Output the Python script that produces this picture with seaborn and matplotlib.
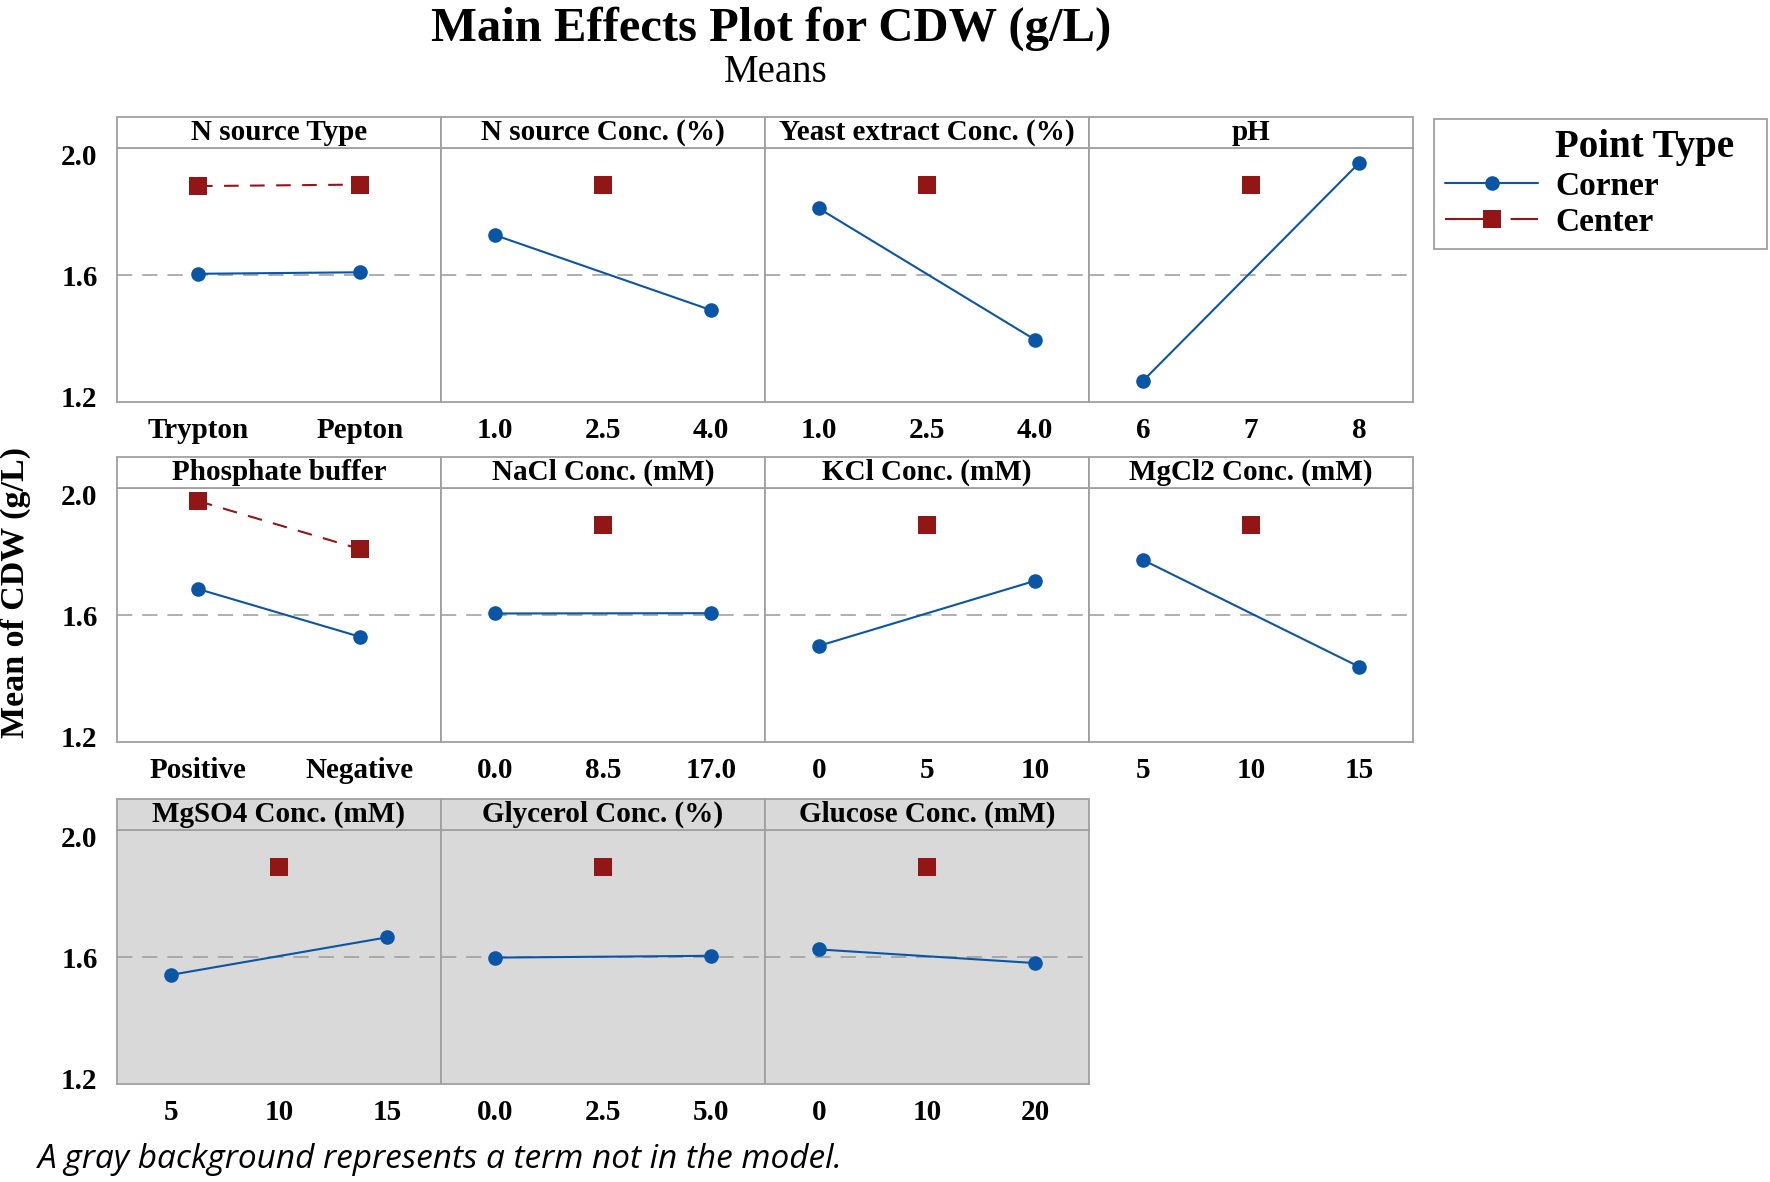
import pandas as pd
import matplotlib.pyplot as plt
import seaborn as sns
from matplotlib.patches import Rectangle
from matplotlib.lines import Line2D

# ------------------------------------
# DATA
# ------------------------------------

factors = ["N source Type", "N source Conc. (%)", "Yeast extract Conc. (%)", "pH",
           "Phosphate buffer", "NaCl Conc. (mM)", "KCl Conc. (mM)", "MgCl2 Conc. (mM)",
           "MgSO4 Conc. (mM)", "Glycerol Conc. (%)", "Glucose Conc. (mM)"]

# x levels: low / center / high  (center None -> categorical factor, two levels only)
low_levels = [0, 1.0, 1.0, 6, 0, 0.0, 0, 5, 5, 0.0, 0]
center_levels = [None, 2.5, 2.5, 7, None, 8.5, 5, 10, 10, 2.5, 10]
high_levels = [1, 4.0, 4.0, 8, 1, 17.0, 10, 15, 15, 5.0, 20]

tick_labels = [["Trypton", "Pepton"], ["1.0", "2.5", "4.0"], ["1.0", "2.5", "4.0"],
               ["6", "7", "8"], ["Positive", "Negative"], ["0.0", "8.5", "17.0"],
               ["0", "5", "10"], ["5", "10", "15"], ["5", "10", "15"],
               ["0.0", "2.5", "5.0"], ["0", "10", "20"]]

# corner point means at low / high level
corner_low = [1.607, 1.735, 1.823, 1.253, 1.689, 1.608, 1.501, 1.785, 1.544, 1.601, 1.628]
corner_high = [1.612, 1.487, 1.389, 1.973, 1.531, 1.609, 1.716, 1.432, 1.668, 1.607, 1.583]

# center point means (two values for categorical factors)
center_means = [[1.897, 1.902], [1.899], [1.899], [1.899], [1.980, 1.821], [1.899],
                [1.899], [1.899], [1.899], [1.899], [1.899]]

in_model = [True] * 8 + [False] * 3
grand_mean = 1.603

y_ticks = [1.2, 1.6, 2.0]

# ------------------------------------
# LONG TABLE
# ------------------------------------

rows = []
for i, f in enumerate(factors):
    rows.append((f, low_levels[i], corner_low[i], "Corner"))
    rows.append((f, high_levels[i], corner_high[i], "Corner"))
    if center_levels[i] is None:
        xs = [low_levels[i], high_levels[i]]
    else:
        xs = [center_levels[i]]
    for x, m in zip(xs, center_means[i]):
        rows.append((f, x, m, "Center"))
df = pd.DataFrame(rows, columns=["factor", "level", "mean", "type"])

# ------------------------------------
# STYLE
# ------------------------------------

sns.set_style("white")
plt.rcParams["font.family"] = ["Liberation Serif", "DejaVu Serif"]
plt.rcParams["text.color"] = "black"
plt.rcParams["xtick.labelcolor"] = "black"
plt.rcParams["ytick.labelcolor"] = "black"

BLUE = "#0a55a6"
RED = "#931616"
EDGE = "#a0a0a0"
GRAYBG = "#d9d9d9"

W, H = 1770, 1182
fig = plt.figure(figsize=(W / 100, H / 100), dpi=100)

col_left = 117
col_w = 324
row_top = [148, 488, 830]
plot_h = 254
head_h = 31

for k, f in enumerate(factors):
    r, c = divmod(k, 4)
    left = col_left + c * col_w
    ax = fig.add_axes([left / W, 1 - (row_top[r] + plot_h) / H, col_w / W, plot_h / H])
    bg = "white" if in_model[k] else GRAYBG
    ax.set_facecolor(bg)

    sub = df[df["factor"] == f]
    ax.axhline(grand_mean, color="#9a9a9a", lw=1.1, dashes=(10, 6.5), zorder=1)

    sns.lineplot(data=sub[sub["type"] == "Corner"], x="level", y="mean", ax=ax,
                 color=BLUE, marker="o", markersize=10.5, markeredgewidth=0,
                 linewidth=1.5, errorbar=None, zorder=3)
    cen = sub[sub["type"] == "Center"]
    sns.lineplot(data=cen, x="level", y="mean", ax=ax,
                 color=RED, marker="s", markersize=13.5, markeredgewidth=0,
                 linewidth=1.5, dashes=False, linestyle=(0, (7, 5.5)),
                 errorbar=None, zorder=3)

    lo, hi = low_levels[k], high_levels[k]
    span = hi - lo
    if center_levels[k] is None:
        ax.set_xlim(lo - 0.5 * span, hi + 0.5 * span)
        ax.set_xticks([lo, hi])
    else:
        ax.set_xlim(lo - 0.25 * span, hi + 0.25 * span)
        ax.set_xticks([lo, center_levels[k], hi])
    ax.set_xticklabels(tick_labels[k], fontsize=21, fontweight="bold")
    ax.set_ylim(1.183, 2.023)

    if c == 0:
        ax.set_yticks(y_ticks)
        ax.set_yticklabels([f"{v:.1f}" for v in y_ticks], fontsize=21, fontweight="bold")
    else:
        ax.set_yticks([])

    ax.tick_params(axis="x", length=8, width=1, color="#808080", pad=3)
    ax.tick_params(axis="y", length=7, width=1, color="#808080", pad=7)
    ax.set_xlabel("")
    ax.set_ylabel("")

    for sp in ax.spines.values():
        sp.set_visible(True)
        sp.set_color(EDGE)
        sp.set_linewidth(1.3)

    # header strip
    hh = head_h / plot_h
    ax.add_patch(Rectangle((0, 1), 1, hh, transform=ax.transAxes, clip_on=False,
                           facecolor=bg, edgecolor=EDGE, linewidth=1.3, zorder=5))
    ax.text(0.5, 1 + hh / 2, f, transform=ax.transAxes, ha="center", va="center",
            fontsize=21, fontweight="bold", zorder=6)

# ------------------------------------
# TITLES / LABELS
# ------------------------------------

fig.text(771 / W, 1 - 29 / H, "Main Effects Plot for CDW (g/L)", ha="center", va="center",
         fontsize=35, fontweight="bold")
fig.text(776 / W, 1 - 72 / H, "Means", ha="center", va="center", fontsize=28)
fig.text(15 / W, 1 - 592 / H, "Mean of CDW (g/L)", rotation=90, ha="center", va="center",
         fontsize=24.5, fontweight="bold")
fig.text(38 / W, 1 - 1160 / H, "A gray background represents a term not in the model.",
         ha="left", va="center", fontsize=24, style="italic",
         family=["Open Sans", "DejaVu Sans"])

# ------------------------------------
# LEGEND
# ------------------------------------

fig.patches.append(Rectangle((1434 / W, 1 - 249 / H), (1767 - 1434) / W, (249 - 119) / H,
                             transform=fig.transFigure, fill=True, facecolor="white",
                             edgecolor=EDGE, linewidth=1.3))
fig.text(1555 / W, 1 - 147 / H, "Point Type", ha="left", va="center",
         fontsize=28, fontweight="bold")
handles = [Line2D([], [], color=BLUE, marker="o", markersize=10.5, markeredgewidth=0, lw=1.5),
           Line2D([], [], color=RED, marker="s", markersize=13.5, markeredgewidth=0, lw=1.5,
                  linestyle=(0, (26, 5.5)))]
fig.legend(handles, ["Corner", "Center"], loc="upper left",
           bbox_to_anchor=(1445 / W, 1 - 171 / H), frameon=False, borderpad=0,
           borderaxespad=0, handlelength=2.8, handletextpad=0.5, labelspacing=0.15,
           prop={"family": "Liberation Serif", "weight": "bold", "size": 24})

plt.savefig("out.png", dpi=100)
plt.close()
